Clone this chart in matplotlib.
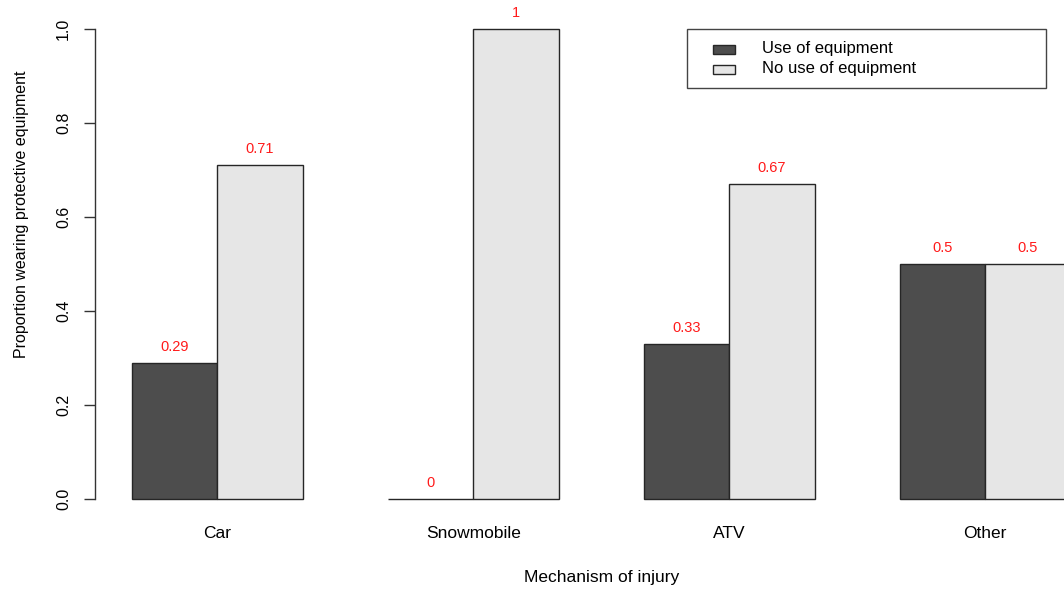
import matplotlib
matplotlib.use("Agg")
import matplotlib.pyplot as plt
from matplotlib.patches import Rectangle

plt.rcParams['font.family'] = ['Liberation Sans', 'DejaVu Sans']

categories = ["Car", "Snowmobile", "ATV", "Other"]
use_equipment = [0.29, 0.0, 0.33, 0.5]
no_use_equipment = [0.71, 1.0, 0.67, 0.5]
series_names = ["Use of equipment", "No use of equipment"]
y_ticks = [0.0, 0.2, 0.4, 0.6, 0.8, 1.0]
y_tick_labels = ["0.0", "0.2", "0.4", "0.6", "0.8", "1.0"]

dark = "#4D4D4D"
light = "#E6E6E6"
edge = "#262626"

W, H = 1064, 590
fig = plt.figure(figsize=(W / 100, H / 100), dpi=100)

# plot region (extends past the right edge, as in the reference)
left_px, right_px, top_px, bottom_px = 94.5, 1108.0, 10.2, 517.8
ax = fig.add_axes([left_px / W, (H - bottom_px) / H,
                   (right_px - left_px) / W, (bottom_px - top_px) / H])

group_starts = [1 + 3 * i for i in range(len(categories))]
x_dark = [g + 0.5 for g in group_starts]
x_light = [g + 1.5 for g in group_starts]
x_cat = [g + 1.0 for g in group_starts]

ax.bar(x_dark, use_equipment, width=1.0, color=dark, edgecolor=edge, linewidth=1.0)
ax.bar(x_light, no_use_equipment, width=1.0, color=light, edgecolor=edge, linewidth=1.0)

for xs, vals in ((x_dark, use_equipment), (x_light, no_use_equipment)):
    for x, v in zip(xs, vals):
        ax.annotate(f"{v:g}", xy=(x, v), xytext=(0, 11.5), textcoords="offset points",
                    ha="center", va="center", color="#FF1A1A", fontsize=10.5)

ax.set_xlim(0.56, 12.44)
ax.set_ylim(-0.04, 1.04)

for s in ("top", "right", "bottom"):
    ax.spines[s].set_visible(False)
ax.spines["left"].set_bounds(0, 1)
ax.spines["left"].set_color("#333333")
ax.spines["left"].set_linewidth(1.0)

ax.set_yticks(y_ticks)
ax.set_yticklabels(y_tick_labels, rotation=90, va="center", fontsize=11.5)
ax.tick_params(axis="y", length=8, width=1.0, color="#333333", pad=9)

ax.set_xticks(x_cat)
ax.set_xticklabels(categories, fontsize=12.5)
ax.tick_params(axis="x", length=0, pad=6)

ax.set_xlabel("Mechanism of injury", fontsize=12.5)
ax.xaxis.set_label_coords(0.5, -0.103)
ax.set_ylabel("Proportion wearing protective equipment", fontsize=11.5)
ax.yaxis.set_label_coords(-0.0650, 0.5985)

# legend box (drawn in figure pixel space)
def fx(px):
    return px / W

def fy(py):
    return 1 - py / H

fig.patches.append(Rectangle((fx(687), fy(88)), fx(1046) - fx(687), fy(29) - fy(88),
                             transform=fig.transFigure, facecolor="white",
                             edgecolor="#444444", linewidth=1.0, zorder=5))
for i, (name, col) in enumerate(zip(series_names, [dark, light])):
    yc = 49 + 20 * i
    fig.patches.append(Rectangle((fx(713), fy(yc + 4.5)), fx(735) - fx(713), 9 / H,
                                 transform=fig.transFigure, facecolor=col,
                                 edgecolor=edge, linewidth=1.0, zorder=6))
    fig.text(fx(762), fy(yc), name, ha="left", va="center", fontsize=12, zorder=7)

fig.savefig("out.png", dpi=100)
